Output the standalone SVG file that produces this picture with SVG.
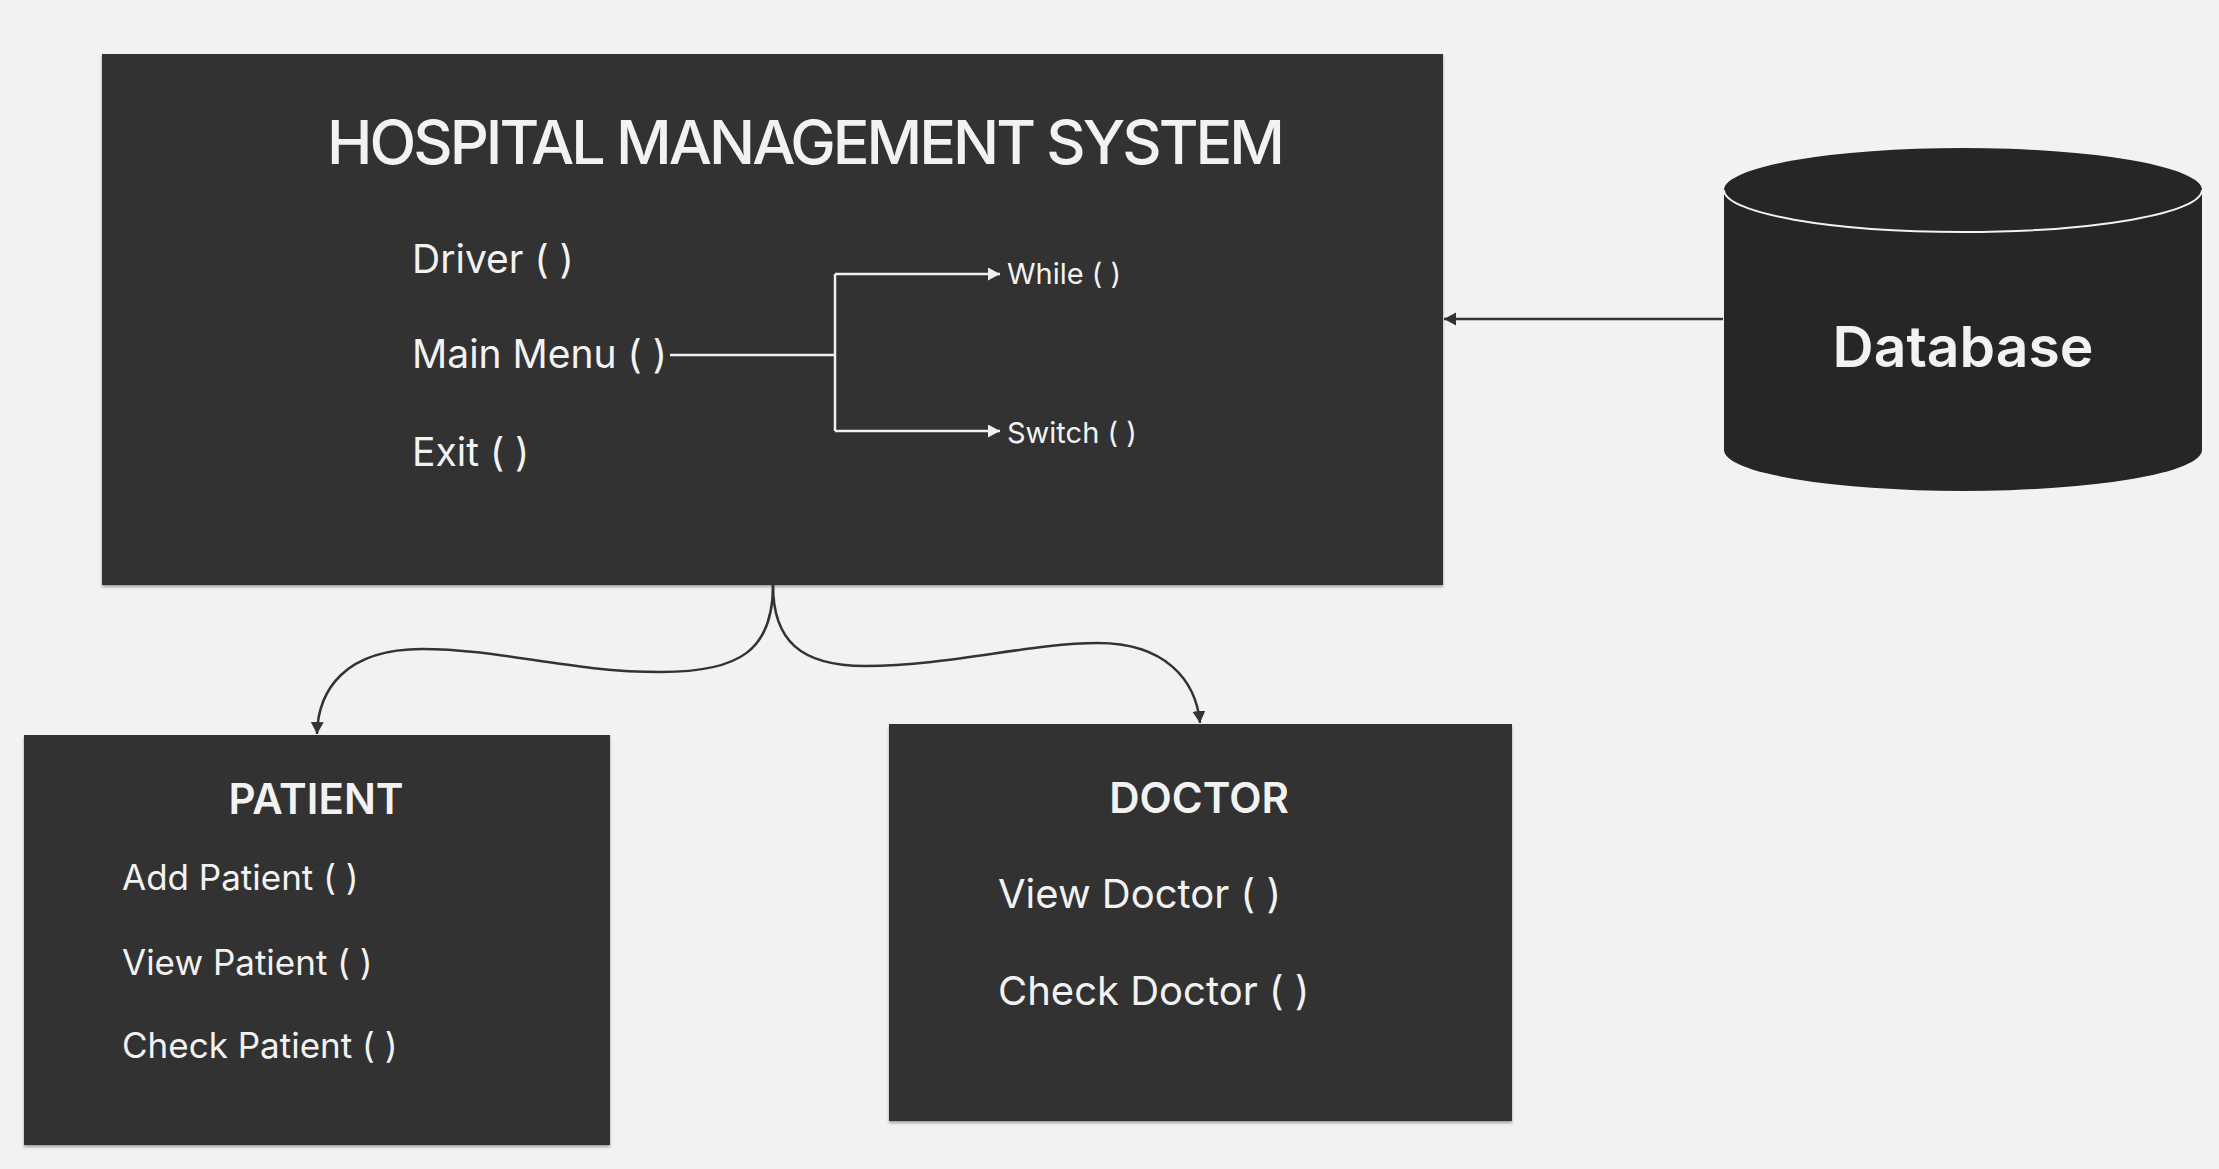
<svg xmlns="http://www.w3.org/2000/svg" width="2219" height="1169" viewBox="0 0 2219 1169">
<style>
.box{fill:#333333}
.t{font-family:Inter,"Noto Sans","Liberation Sans",sans-serif;fill:#f2f2f2}
.title{font-size:61px;font-weight:500}
.item{font-size:39px}
.small{font-size:29px}
.sub{font-size:42px;font-weight:600}
.pitem{font-size:35px}
.ditem{font-size:40px}
.wire{fill:none;stroke:#f0f0f0;stroke-width:2.5}
.dark{fill:none;stroke:#333333;stroke-width:2.5}
</style>
<defs>
<filter id="sh" x="-5%" y="-5%" width="110%" height="115%">
<feDropShadow dx="0" dy="2" stdDeviation="1.5" flood-color="#000" flood-opacity="0.35"/>
</filter>
<marker id="aw" markerUnits="userSpaceOnUse" markerWidth="14" markerHeight="14" refX="12" refY="6.5" orient="auto">
<path d="M0,0 L12,6.5 L0,13 Z" fill="#f0f0f0"/>
</marker>
<marker id="ad" markerUnits="userSpaceOnUse" markerWidth="14" markerHeight="14" refX="12" refY="6.5" orient="auto">
<path d="M0,0 L12,6.5 L0,13 Z" fill="#333333"/>
</marker>
</defs>
<rect width="2219" height="1169" fill="#f2f2f2"/>

<g id="hms">
<rect class="box" x="102" y="54" width="1341" height="531" filter="url(#sh)"/>
<text class="t title" x="327" y="164" textLength="958">HOSPITAL MANAGEMENT SYSTEM</text>
<text class="t item" x="412" y="273">Driver ( )</text>
<text class="t item" x="412" y="368">Main Menu ( )</text>
<text class="t item" x="412" y="466">Exit ( )</text>
<text class="t small" x="1007" y="284">While ( )</text>
<text class="t small" x="1007" y="443">Switch ( )</text>
</g>

<g id="database">
<path d="M1724,190 L1724,450 A239,41 0 0 0 2202,450 L2202,190 A239,42 0 0 0 1724,190 Z" fill="#262626"/>
<path d="M1724,190 A239,42 0 0 0 2202,190" fill="none" stroke="#f2f2f2" stroke-width="2"/>
<text class="t" x="1963" y="367" text-anchor="middle" font-size="57" font-weight="600">Database</text>
</g>

<g id="patient">
<rect class="box" x="24" y="735" width="586" height="410" filter="url(#sh)"/>
<text class="t sub" x="316" y="814" text-anchor="middle">PATIENT</text>
<text class="t pitem" x="122" y="890">Add Patient ( )</text>
<text class="t pitem" x="122" y="975">View Patient ( )</text>
<text class="t pitem" x="122" y="1058">Check Patient ( )</text>
</g>

<g id="doctor">
<rect class="box" x="889" y="724" width="623" height="397" filter="url(#sh)"/>
<text class="t sub" x="1199" y="813" text-anchor="middle">DOCTOR</text>
<text class="t ditem" x="998" y="908">View Doctor ( )</text>
<text class="t ditem" x="998" y="1005">Check Doctor ( )</text>
</g>

<g id="connectors">
<path class="wire" d="M670,355 L835,355"/>
<path class="wire" d="M835,274 L835,431"/>
<path class="wire" d="M835,274 L1000,274" marker-end="url(#aw)"/>
<path class="wire" d="M835,431 L1000,431" marker-end="url(#aw)"/>
<path class="dark" d="M1723,319 L1444,319" marker-end="url(#ad)"/>
<path class="dark" d="M773,585 C773,650 740,672 661,672 C570,672 500,649 422,649 C345,649 318,690 317,734" marker-end="url(#ad)"/>
<path class="dark" d="M773,585 C773,640 800,666 865,666 C950,666 1030,643 1098,643 C1165,643 1196,680 1200,723" marker-end="url(#ad)"/>
</g>
</svg>
